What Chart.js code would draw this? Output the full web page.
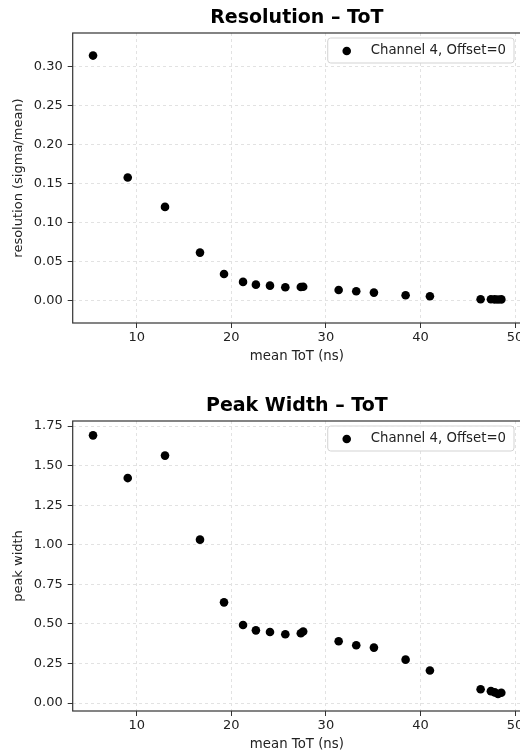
<!DOCTYPE html>
<html>
<head>
<meta charset="utf-8">
<script src="https://cdn.jsdelivr.net/npm/chart.js@4.4.0/dist/chart.umd.min.js"></script>
<style>
    html, body { margin: 0; padding: 0; background: #fff; overflow: hidden; width: 520px; height: 751px; }
    .plot { position: absolute; left: 0; width: 530px; height: 368px; }
    #top { top: 0; }
    #bottom { top: 388px; }
</style>
</head>
<body>
<div class="plot" id="top"><canvas id="chartRes"></canvas></div>
<div class="plot" id="bottom"><canvas id="chartWidth"></canvas></div>
<script>
// mean ToT (ns), shared by both plots
const meanToT = [5.38, 9.05, 12.99, 16.69, 19.23, 21.24, 22.6, 24.09, 25.71, 27.35, 27.6, 31.35, 33.21, 35.08, 38.43, 41.0, 46.36, 47.45, 47.85, 48.2, 48.55];
const resolution = [0.3137, 0.1577, 0.120, 0.0615, 0.0342, 0.0240, 0.0205, 0.0192, 0.0172, 0.0174, 0.0178, 0.0137, 0.0120, 0.0103, 0.0069, 0.0056, 0.0018, 0.0018, 0.0016, 0.0015, 0.0016];
const peakWidth = [1.691, 1.421, 1.563, 1.032, 0.636, 0.493, 0.459, 0.449, 0.434, 0.441, 0.452, 0.390, 0.365, 0.350, 0.274, 0.205, 0.087, 0.075, 0.067, 0.057, 0.065];

const xTicks = [10, 20, 30, 40, 50];
const resTicks = [0.00, 0.05, 0.10, 0.15, 0.20, 0.25, 0.30];
const widthTicks = [0.00, 0.25, 0.50, 0.75, 1.00, 1.25, 1.50, 1.75];
const legendLabel = 'Channel 4, Offset=0';

const FONT = '"DejaVu Sans", sans-serif';
const TEXT = '#222';

// axes frame + legend box in the upper right corner
const frameAndLegend = {
    id: 'frameAndLegend',
    afterDraw(chart) {
        const ctx = chart.ctx, a = chart.chartArea;
        ctx.save();
        ctx.strokeStyle = '#333';
        ctx.lineWidth = 1.2;
        ctx.strokeRect(a.left, a.top, a.right - a.left, a.bottom - a.top);

        ctx.font = '13.3px ' + FONT;
        const w = 43 + ctx.measureText(legendLabel).width + 8;
        const h = 25, x = a.right - 7 - w, y = a.top + 5;
        ctx.beginPath();
        ctx.roundRect(x, y, w, h, 3);
        ctx.fillStyle = 'rgba(255,255,255,0.8)';
        ctx.fill();
        ctx.strokeStyle = '#d3d3d3';
        ctx.lineWidth = 1;
        ctx.stroke();
        ctx.fillStyle = '#000';
        ctx.beginPath();
        ctx.arc(x + 19, y + h / 2 + 0.5, 4.3, 0, Math.PI * 2);
        ctx.fill();
        ctx.fillStyle = TEXT;
        ctx.textBaseline = 'middle';
        ctx.fillText(legendLabel, x + 43, y + h / 2);
        ctx.restore();
    }
};

function makeChart(id, title, yTitle, values, yTicks, yMin, yMax) {
    return new Chart(document.getElementById(id), {
        type: 'scatter',
        data: {
            datasets: [{
                label: legendLabel,
                data: meanToT.map((x, i) => ({ x: x, y: values[i] })),
                backgroundColor: '#000',
                borderColor: '#000',
                borderWidth: 0,
                pointRadius: 4.3,
                pointHoverRadius: 4.3
            }]
        },
        options: {
            responsive: true,
            maintainAspectRatio: false,
            animation: false,
            events: [],
            layout: { padding: { left: 0, right: 9, top: 0, bottom: 0 } },
            plugins: {
                legend: { display: false },
                tooltip: { enabled: false },
                title: {
                    display: true,
                    fullSize: false,
                    text: title,
                    color: '#000',
                    font: { family: FONT, size: 19, weight: 'bold', lineHeight: 1.2 },
                    padding: { top: 7, bottom: 3.2 }
                }
            },
            scales: {
                x: {
                    type: 'linear',
                    min: 3.23,
                    max: 50.63,
                    afterBuildTicks: s => { s.ticks = xTicks.map(v => ({ value: v })); },
                    afterFit: s => { s.height = 45; },
                    ticks: { color: TEXT, font: { family: FONT, size: 13 }, padding: 2, maxRotation: 0, callback: v => String(v) },
                    grid: { color: '#e2e2e2', lineWidth: 1, tickLength: 5, tickColor: '#333', tickWidth: 1 },
                    border: { display: false, dash: [3, 3] },
                    title: { display: true, text: 'mean ToT (ns)', color: TEXT, font: { family: FONT, size: 13.3, lineHeight: 1.2 }, padding: { top: 0, bottom: 3 } }
                },
                y: {
                    type: 'linear',
                    min: yMin,
                    max: yMax,
                    afterBuildTicks: s => { s.ticks = yTicks.map(v => ({ value: v })); },
                    afterFit: s => { s.width = 72.7; },
                    ticks: { color: TEXT, font: { family: FONT, size: 13 }, padding: 5, callback: v => v.toFixed(2) },
                    grid: { color: '#e2e2e2', lineWidth: 1, tickLength: 5, tickColor: '#333', tickWidth: 1 },
                    border: { display: false, dash: [3, 3] },
                    title: { display: true, text: yTitle, color: TEXT, font: { family: FONT, size: 13, lineHeight: 1.2 }, padding: { top: 11, bottom: 0 } }
                }
            }
        },
        plugins: [frameAndLegend]
    });
}

makeChart('chartRes', 'Resolution \u2013 ToT', 'resolution (sigma/mean)', resolution, resTicks, -0.0286, 0.3426);
makeChart('chartWidth', 'Peak Width \u2013 ToT', 'peak width', peakWidth, widthTicks, -0.0505, 1.7816);
</script>
</body>
</html>
